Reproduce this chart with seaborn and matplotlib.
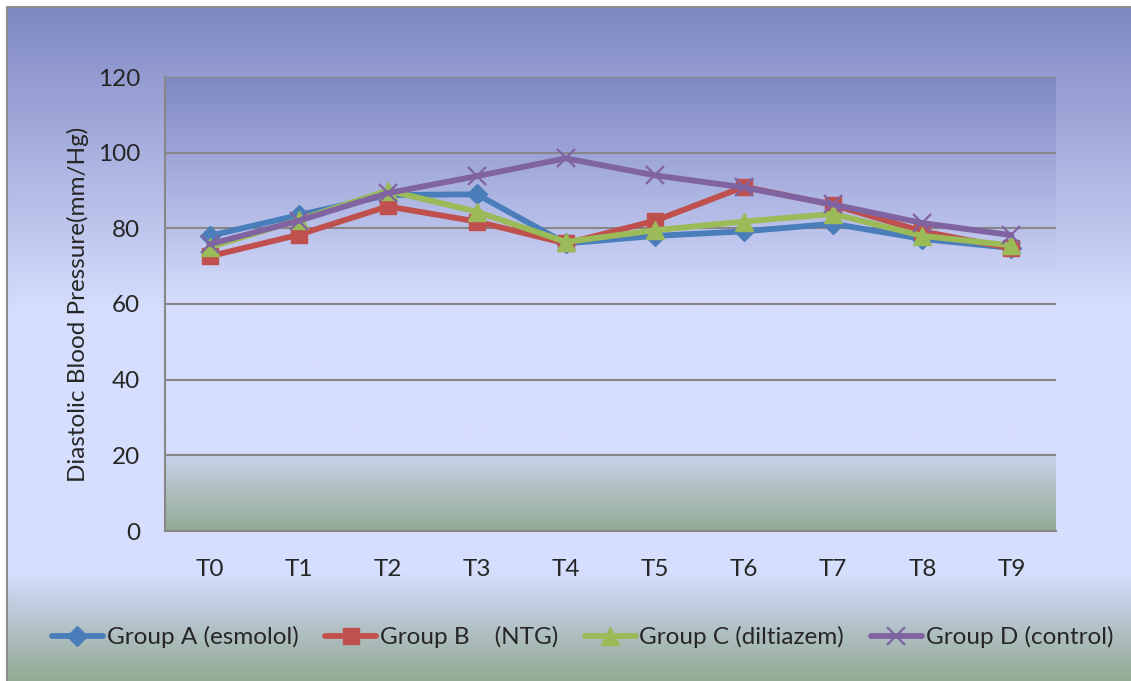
import numpy as np
import pandas as pd
import matplotlib
matplotlib.use("Agg")
import matplotlib.pyplot as plt
from matplotlib.colors import LinearSegmentedColormap
import seaborn as sns

# ---- data -------------------------------------------------------------
time_points = ["T0", "T1", "T2", "T3", "T4", "T5", "T6", "T7", "T8", "T9"]
group_a = [78.0, 83.5, 88.8, 89.0, 76.0, 78.0, 79.2, 81.2, 77.2, 74.8]
group_b = [72.6, 78.3, 85.8, 81.8, 76.0, 82.0, 91.0, 86.2, 79.2, 74.7]
group_c = [75.0, 82.2, 90.0, 84.4, 76.4, 79.5, 81.8, 83.8, 78.0, 75.5]
group_d = [75.8, 82.0, 89.3, 93.8, 98.5, 94.0, 90.8, 86.3, 81.4, 78.2]
series_names = ["Group A (esmolol)", "Group B    (NTG)",
                "Group C (diltiazem)", "Group D (control)"]
y_ticks = [0, 20, 40, 60, 80, 100, 120]

# ---- styling ----------------------------------------------------------
sns.set_style("white")
plt.rcParams["font.family"] = ["Lato", "DejaVu Sans"]

colors = ["#4a7ebb", "#c0504d", "#9bbb59", "#8064a2"]
markers = ["D", "s", "^", "x"]
msizes = [10, 12, 13, 13]
grid_col = "#878787"
FS = 17.5

TOP = (128/255, 136/255, 196/255)
MID = (214/255, 222/255, 253/255)
BASE = (148/255, 170/255, 148/255)

# vertical gradients: slate-blue top, pale lavender middle, grey-green base
plot_cmap = LinearSegmentedColormap.from_list(
    "plotbg",
    [(0.0, TOP), (0.50, MID), (0.83, MID),
     (0.835, (200/255, 210/255, 234/255)), (1.0, BASE)])
fig_cmap = LinearSegmentedColormap.from_list(
    "figbg",
    [(0.0, TOP), (0.45, MID), (0.84, MID),
     (0.88, (196/255, 207/255, 228/255)), (1.0, BASE)])
grad = np.linspace(0, 1, 512).reshape(-1, 1)

W, H = 1131, 681
fig = plt.figure(figsize=(W / 100, H / 100), dpi=100)
fig.patch.set_facecolor("white")

# chart-area background with its frame
bg = fig.add_axes([0, 0, 1, 1], zorder=-10)
bg.imshow(grad, cmap=fig_cmap, aspect="auto", extent=(7, W, H, 7),
          interpolation="bilinear")
bg.plot([7, 7, W], [H, 7, 7], color="#8c8c8c", lw=1.5)
bg.set_xlim(0, W)
bg.set_ylim(H, 0)
bg.axis("off")

# plot area
ax = fig.add_axes([165 / W, 150 / H, 891 / W, 454 / H])
ax.imshow(grad, cmap=plot_cmap, aspect="auto", extent=(-0.5, 9.5, 0, 120),
          interpolation="bilinear", zorder=0)

long = pd.DataFrame({
    "pos": list(range(len(time_points))) * 4,
    "value": group_a + group_b + group_c + group_d,
    "group": sum([[n] * len(time_points) for n in series_names], []),
})

for name, col, mk, ms in zip(series_names, colors, markers, msizes):
    sub = long[long["group"] == name]
    sns.lineplot(data=sub, x="pos", y="value", ax=ax, color=col, lw=4.2,
                 marker=mk, markersize=ms, markeredgecolor=col,
                 markerfacecolor=col,
                 markeredgewidth=1.6 if mk == "x" else 1.0,
                 label=name, legend=False, zorder=3)

ax.set_xlim(-0.5, 9.5)
ax.set_ylim(0, 120)
ax.set_xlabel("")
ax.set_ylabel("Diastolic Blood Pressure(mm/Hg)", fontsize=FS, labelpad=6)

ax.set_yticks(y_ticks)
ax.set_xticks(range(len(time_points)))
ax.set_xticklabels(time_points)
ax.set_xticks(np.arange(-0.5, 10, 1.0), minor=True)
ax.tick_params(axis="x", which="major", length=0, pad=20, labelsize=FS)
ax.tick_params(axis="x", which="minor", length=8, width=1.5,
               color=grid_col, direction="out")
ax.tick_params(axis="y", length=6, width=1.5, color=grid_col,
               direction="out", pad=12, labelsize=FS)

ax.yaxis.grid(True, color=grid_col, lw=1.5, zorder=1)
ax.xaxis.grid(False)
for side in ["top", "right"]:
    ax.spines[side].set_visible(False)
for side in ["left", "bottom"]:
    ax.spines[side].set_color(grid_col)
    ax.spines[side].set_linewidth(1.5)

handles, labels = ax.get_legend_handles_labels()
fig.legend(handles, labels, loc="center", bbox_to_anchor=(0.515, 44 / H),
           ncol=4, frameon=False, fontsize=FS, handlelength=2.1,
           handletextpad=0.15, columnspacing=1.1)

fig.savefig("out.png", dpi=100)
